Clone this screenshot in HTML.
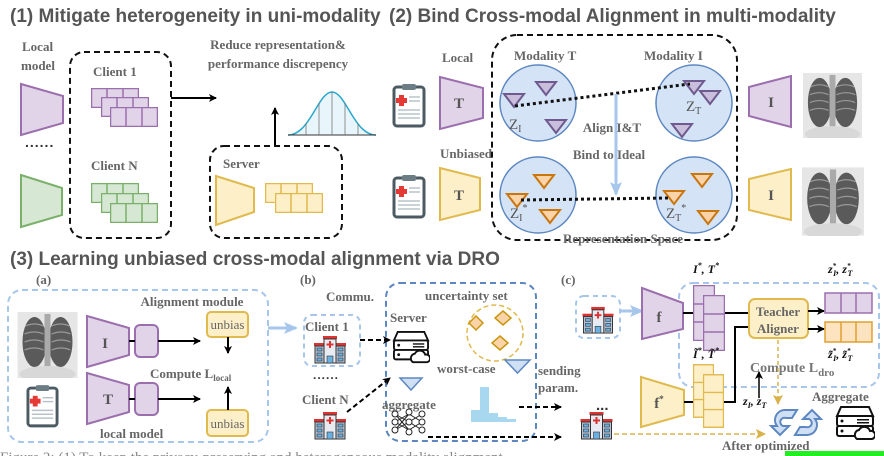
<!DOCTYPE html>
<html><head><meta charset="utf-8"><style>
html,body{margin:0;padding:0;background:#fff;width:884px;height:456px;overflow:hidden}
svg{display:block}
.t{font-family:"Liberation Sans",sans-serif;font-weight:bold;font-size:19px;fill:#555}
.s{font-family:"Liberation Serif",serif;font-weight:bold;font-size:13px;fill:#666}
.k{font-family:"Liberation Serif",serif;font-weight:bold;font-size:12px;fill:#111;font-style:italic}
</style></head><body>
<svg width="884" height="456" viewBox="0 0 884 456" xmlns="http://www.w3.org/2000/svg">
<defs>
<marker id="ah" markerWidth="8" markerHeight="8" refX="7" refY="4" orient="auto" markerUnits="userSpaceOnUse"><path d="M0,0 L8,4 L0,8 L2,4z" fill="#000"/></marker>
<marker id="ahb" markerWidth="14" markerHeight="12" refX="12" refY="6" orient="auto" markerUnits="userSpaceOnUse"><path d="M0,0 L14,6 L0,12 L3,6z" fill="#a7c6ec"/></marker>
<marker id="ahy" markerWidth="10" markerHeight="10" refX="9" refY="5" orient="auto" markerUnits="userSpaceOnUse"><path d="M0,0 L10,5 L0,10 L2,5z" fill="#d9b34a"/></marker>
<symbol id="clip" viewBox="0 0 34 46"><rect x="2" y="5" width="30" height="39" rx="3" fill="#fff" stroke="#4c5b63" stroke-width="3"/><rect x="10" y="2" width="14" height="6" rx="2" fill="#6d7d86"/><rect x="7" y="13" width="5" height="11" fill="#e53935"/><rect x="4" y="16" width="11" height="5" fill="#e53935"/><g stroke="#b7c3c9" stroke-width="1.5"><line x1="17" y1="15" x2="28" y2="15"/><line x1="17" y1="19" x2="28" y2="19"/><line x1="6" y1="28" x2="28" y2="28"/><line x1="6" y1="32" x2="28" y2="32"/><line x1="6" y1="36" x2="28" y2="36"/></g></symbol>
<symbol id="hosp" viewBox="0 0 34 30"><rect x="1" y="9" width="32" height="3" fill="#d33"/><rect x="10" y="2" width="14" height="3" fill="#d33"/><rect x="2" y="12" width="30" height="17" fill="#b8c4d8" stroke="#333" stroke-width="1"/><rect x="11" y="5" width="12" height="24" fill="#e8ecf2" stroke="#333"/><rect x="16" y="7" width="2" height="7" fill="#d33"/><rect x="13.5" y="9.5" width="7" height="2" fill="#d33"/><rect x="14" y="22" width="6" height="7" fill="#6ab0e0" stroke="#333" stroke-width=".6"/><g fill="#6ab0e0" stroke="#333" stroke-width=".6"><rect x="4" y="14" width="5" height="3"/><rect x="4" y="19" width="5" height="3"/><rect x="4" y="24" width="5" height="3"/><rect x="25" y="14" width="5" height="3"/><rect x="25" y="19" width="5" height="3"/><rect x="25" y="24" width="5" height="3"/></g></symbol>
<symbol id="serv" viewBox="0 0 40 38"><g fill="#fff" stroke="#111" stroke-width="2"><path d="M6,2 L34,2 L38,11 L2,11z"/><rect x="2" y="11" width="36" height="10" rx="2"/><rect x="2" y="21" width="36" height="10" rx="2"/><path d="M22,34 a5,5 0 0 1 2,-9 a6,6 0 0 1 11,1 a4,4 0 0 1 2,8z"/></g><g fill="#111"><circle cx="7" cy="16" r="1.5"/><circle cx="7" cy="26" r="1.5"/><rect x="22" y="14" width="12" height="1.5"/><rect x="22" y="17" width="12" height="1.5"/></g></symbol>
<symbol id="xray" viewBox="0 0 60 66"><rect width="60" height="66" fill="#e6e6e6"/><ellipse cx="17" cy="30" rx="12" ry="25" fill="#5a5a5a"/><ellipse cx="43" cy="30" rx="12" ry="25" fill="#5a5a5a"/><rect x="27" y="2" width="6" height="60" fill="#aaa"/><ellipse cx="30" cy="62" rx="28" ry="8" fill="#d8d8d8"/><g stroke="#999" stroke-width="1.2" fill="none"><path d="M8,14 q9,-4 18,0"/><path d="M7,22 q10,-4 19,0"/><path d="M7,30 q10,-4 19,0"/><path d="M7,38 q10,-4 19,0"/><path d="M34,14 q9,-4 18,0"/><path d="M34,22 q10,-4 19,0"/><path d="M34,30 q10,-4 19,0"/><path d="M34,38 q10,-4 19,0"/></g></symbol>
<symbol id="gp" viewBox="0 0 48 20"><rect x="0.5" y="0.5" width="47" height="19" fill="#e2d4e8" stroke="#9b6fae" stroke-width="1.5"/><line x1="16" y1="0" x2="16" y2="20" stroke="#9b6fae" stroke-width="1.5"/><line x1="32" y1="0" x2="32" y2="20" stroke="#9b6fae" stroke-width="1.5"/></symbol>
<symbol id="gg" viewBox="0 0 48 20"><rect x="0.5" y="0.5" width="47" height="19" fill="#d6e8d3" stroke="#7ab06a" stroke-width="1.5"/><line x1="16" y1="0" x2="16" y2="20" stroke="#7ab06a" stroke-width="1.5"/><line x1="32" y1="0" x2="32" y2="20" stroke="#7ab06a" stroke-width="1.5"/></symbol>
<symbol id="gy" viewBox="0 0 48 20"><rect x="0.5" y="0.5" width="47" height="19" fill="#fdf0c8" stroke="#e0b94f" stroke-width="1.5"/><line x1="16" y1="0" x2="16" y2="20" stroke="#e0b94f" stroke-width="1.5"/><line x1="32" y1="0" x2="32" y2="20" stroke="#e0b94f" stroke-width="1.5"/></symbol>
<symbol id="vp" viewBox="0 0 22 56"><rect x="0.5" y="0.5" width="21" height="55" fill="#e2d4e8" stroke="#9b6fae" stroke-width="1.5"/><g stroke="#9b6fae" stroke-width="1.5"><line x1="0" y1="19" x2="22" y2="19"/><line x1="0" y1="37" x2="22" y2="37"/></g></symbol>
<symbol id="vy" viewBox="0 0 22 56"><rect x="0.5" y="0.5" width="21" height="55" fill="#fdf0c8" stroke="#e0b94f" stroke-width="1.5"/><g stroke="#e0b94f" stroke-width="1.5"><line x1="0" y1="19" x2="22" y2="19"/><line x1="0" y1="37" x2="22" y2="37"/></g></symbol>
<path id="tp" d="M0,0 L20,0 L10,13z" fill="#c9bfdc" stroke="#6e5a8f" stroke-width="2"/>
<path id="to" d="M0,0 L20,0 L10,13z" fill="#fbd3a8" stroke="#c9760f" stroke-width="2"/>
</defs>

<!-- Section 1 -->
<text class="t" x="10" y="22">(1) Mitigate heterogeneity in uni-modality</text>
<text class="t" x="389" y="22">(2) Bind Cross-modal Alignment in multi-modality</text>
<text class="s" x="22" y="51">Local</text><text class="s" x="21" y="70">model</text>
<path d="M21,84 L63,96 L63,123 L21,135z" fill="#e2d4e8" stroke="#9b6fae" stroke-width="2"/>
<text x="25" y="147" style="font:bold 14px 'Liberation Sans';fill:#333;letter-spacing:1px">......</text>
<path d="M21,175 L62,188 L62,215 L21,227z" fill="#d6e8d3" stroke="#7ab06a" stroke-width="2"/>
<rect x="70" y="52" width="101" height="186" rx="14" fill="none" stroke="#111" stroke-width="2" stroke-dasharray="6,4"/>
<text class="s" x="93" y="76">Client 1</text>
<use href="#gp" x="91" y="88" width="48" height="20"/><use href="#gp" x="101" y="97" width="48" height="20"/><use href="#gp" x="110" y="107" width="48" height="20"/>
<text class="s" x="91" y="170">Client N</text>
<use href="#gg" x="91" y="183" width="48" height="20"/><use href="#gg" x="101" y="193" width="48" height="20"/><use href="#gg" x="110" y="203" width="48" height="20"/>
<line x1="171" y1="98" x2="216" y2="98" stroke="#000" stroke-width="2" marker-end="url(#ah)"/>
<text class="s" x="278" y="49" text-anchor="middle">Reduce representation&amp;</text>
<text class="s" x="278" y="68" text-anchor="middle">performance discrepency</text>
<line x1="275" y1="146" x2="275" y2="108" stroke="#000" stroke-width="2" marker-end="url(#ah)"/>
<path d="M288,135 C310,135 318,92 332,92 C346,92 354,135 376,135z" fill="#e8f6fb"/>
<path d="M288,135 C310,135 318,92 332,92 C346,92 354,135 376,135" fill="none" stroke="#2aa7cc" stroke-width="1.5"/>
<line x1="288" y1="135" x2="376" y2="135" stroke="#333"/>
<g stroke="#777" stroke-width=".8"><line x1="306" y1="135" x2="306" y2="123"/><line x1="319" y1="135" x2="319" y2="103"/><line x1="332" y1="135" x2="332" y2="92"/><line x1="345" y1="135" x2="345" y2="103"/><line x1="358" y1="135" x2="358" y2="123"/></g>
<rect x="210" y="146" width="132" height="92" rx="14" fill="none" stroke="#111" stroke-width="2" stroke-dasharray="6,4"/>
<text class="s" x="223" y="168">Server</text>
<path d="M216,176 L254,188 L254,212 L216,225z" fill="#fdf0c8" stroke="#e0b94f" stroke-width="2"/>
<use href="#gy" x="265" y="183" width="48" height="20"/><use href="#gy" x="275" y="193" width="48" height="20"/>

<!-- Section 2 -->
<use href="#clip" x="392" y="82" width="34" height="46"/>
<use href="#clip" x="392" y="173" width="34" height="46"/>
<text class="s" x="442" y="62">Local</text>
<path d="M440,77 L483,88 L483,118 L440,129z" fill="#e2d4e8" stroke="#9b6fae" stroke-width="2"/>
<text x="459" y="108" style="font:bold 15px 'Liberation Serif';fill:#555" text-anchor="middle">T</text>
<text class="s" x="440" y="158">Unbiased</text>
<path d="M440,168 L480,178 L480,210 L440,220z" fill="#fdf0c8" stroke="#e0b94f" stroke-width="2"/>
<text x="459" y="200" style="font:bold 15px 'Liberation Serif';fill:#555" text-anchor="middle">T</text>
<rect x="492" y="35" width="245" height="205" rx="25" fill="none" stroke="#111" stroke-width="2" stroke-dasharray="6,4"/>
<text class="s" x="514" y="60">Modality T</text><text class="s" x="644" y="60">Modality I</text>
<g fill="#d4e3f5" stroke="#5d87c0" stroke-width="1.5"><circle cx="538" cy="103" r="38"/><circle cx="694" cy="103" r="38"/><circle cx="538" cy="195" r="38"/><circle cx="694" cy="195" r="38"/></g>
<use href="#tp" x="504" y="94"/><use href="#tp" x="536" y="82"/><use href="#tp" x="546" y="120"/>
<use href="#tp" x="684" y="81"/><use href="#tp" x="700" y="91"/><use href="#tp" x="672" y="124"/>
<use href="#to" x="534" y="175"/><use href="#to" x="507" y="194"/><use href="#to" x="540" y="210"/>
<use href="#to" x="692" y="174"/><use href="#to" x="664" y="191"/><use href="#to" x="698" y="211"/>
<line x1="515" y1="106" x2="690" y2="84" stroke="#111" stroke-width="3" stroke-dasharray="3,3"/>
<line x1="521" y1="200" x2="668" y2="198" stroke="#111" stroke-width="3" stroke-dasharray="3,3"/>
<line x1="616" y1="94" x2="616" y2="194" stroke="#a7c6ec" stroke-width="3" marker-end="url(#ahb)"/>
<text x="509" y="129" style="font:15px 'Liberation Serif';fill:#555">Z<tspan font-size="10" dy="3">I</tspan></text>
<text x="686" y="111" style="font:15px 'Liberation Serif';fill:#555">Z<tspan font-size="10" dy="3">T</tspan></text>
<text x="510" y="218" style="font:15px 'Liberation Serif';fill:#555">Z<tspan font-size="10" dy="3">I</tspan><tspan font-size="10" dy="-10">*</tspan></text>
<text x="666" y="218" style="font:15px 'Liberation Serif';fill:#555">Z<tspan font-size="10" dy="3">T</tspan><tspan font-size="10" dy="-10">*</tspan></text>
<text class="s" x="612" y="132" text-anchor="middle">Align I&amp;T</text>
<text class="s" x="609" y="159" text-anchor="middle">Bind to Ideal</text>
<text class="s" x="623" y="243" text-anchor="middle">Representation Space</text>
<path d="M749,87 L791,76 L791,127 L749,116z" fill="#e2d4e8" stroke="#9b6fae" stroke-width="2"/>
<text x="771" y="107" style="font:bold 15px 'Liberation Serif';fill:#555" text-anchor="middle">I</text>
<path d="M749,179 L791,169 L791,220 L749,210z" fill="#fdf0c8" stroke="#e0b94f" stroke-width="2"/>
<text x="771" y="200" style="font:bold 15px 'Liberation Serif';fill:#555" text-anchor="middle">I</text>
<use href="#xray" x="802" y="73" width="61" height="65"/>
<use href="#xray" x="802" y="167" width="62" height="69"/>

<!-- Section 3 -->
<text class="t" x="10" y="265">(3) Learning unbiased cross-modal alignment via DRO</text>
<text class="s" x="36" y="284">(a)</text>
<rect x="8" y="290" width="260" height="152" rx="14" fill="none" stroke="#a7c6ec" stroke-width="2" stroke-dasharray="6,4"/>
<use href="#xray" x="17" y="312" width="61" height="66"/>
<use href="#clip" x="26" y="383" width="33" height="45"/>
<path d="M87,316 L129,328 L129,355 L87,367z" fill="#e2d4e8" stroke="#9b6fae" stroke-width="2"/>
<text x="105" y="348" style="font:bold 15px 'Liberation Serif';fill:#555" text-anchor="middle">I</text>
<path d="M87,373 L129,385 L129,412 L87,424z" fill="#e2d4e8" stroke="#9b6fae" stroke-width="2"/>
<text x="108" y="404" style="font:bold 15px 'Liberation Serif';fill:#555" text-anchor="middle">T</text>
<g fill="#e2d4e8" stroke="#9b6fae" stroke-width="2"><rect x="135" y="325" width="23" height="32" rx="5"/><rect x="135" y="383" width="23" height="32" rx="5"/></g>
<line x1="129" y1="341" x2="135" y2="341" stroke="#000" stroke-width="2"/><line x1="129" y1="399" x2="135" y2="399" stroke="#000" stroke-width="2"/>
<line x1="158" y1="341" x2="200" y2="341" stroke="#000" stroke-width="2" marker-end="url(#ah)"/>
<line x1="158" y1="399" x2="200" y2="399" stroke="#000" stroke-width="2" marker-end="url(#ah)"/>
<text class="s" x="192" y="306" text-anchor="middle">Alignment module</text>
<g fill="#fdf0c8" stroke="#e0b94f" stroke-width="2"><rect x="207" y="312" width="41" height="25" rx="4"/><rect x="207" y="410" width="41" height="26" rx="4"/></g>
<text x="227.5" y="329" style="font:13px 'Liberation Serif';fill:#666" text-anchor="middle">unbias</text>
<text x="227.5" y="428" style="font:13px 'Liberation Serif';fill:#666" text-anchor="middle">unbias</text>
<line x1="228" y1="337" x2="228" y2="353" stroke="#000" stroke-width="2" marker-end="url(#ah)"/>
<line x1="228" y1="410" x2="228" y2="387" stroke="#000" stroke-width="2" marker-end="url(#ah)"/>
<text class="s" x="150" y="378">Compute L<tspan font-size="9" dy="3">local</tspan></text>
<text class="s" x="100" y="438">local model</text>
<line x1="268" y1="328" x2="296" y2="328" stroke="#a7c6ec" stroke-width="3" marker-end="url(#ahb)"/>

<text class="s" x="300" y="284">(b)</text>
<text class="s" x="326" y="301">Commu.</text>
<rect x="304" y="315" width="56" height="51" rx="8" fill="none" stroke="#a7c6ec" stroke-width="2" stroke-dasharray="5,4"/>
<text class="s" x="305" y="331">Client 1</text>
<use href="#hosp" x="313" y="334" width="34" height="30"/>
<text x="313" y="379" style="font:bold 12px 'Liberation Sans';fill:#333;letter-spacing:1px">......</text>
<text class="s" x="302" y="404">Client N</text>
<use href="#hosp" x="313" y="410" width="34" height="30"/>
<rect x="386" y="283" width="150" height="158" rx="14" fill="none" stroke="#5d87c0" stroke-width="2" stroke-dasharray="6,4"/>
<text class="s" x="425" y="300">uncertainty set</text>
<text class="s" x="390" y="322">Server</text>
<use href="#serv" x="392" y="330" width="38" height="36"/>
<line x1="360" y1="340" x2="390" y2="340" stroke="#000" stroke-width="2" stroke-dasharray="5,3" marker-end="url(#ah)"/>
<line x1="347" y1="412" x2="390" y2="378" stroke="#000" stroke-width="2" stroke-dasharray="5,3" marker-end="url(#ah)"/>
<circle cx="495" cy="333" r="28" fill="none" stroke="#e0b94f" stroke-width="1.5" stroke-dasharray="5,3"/>
<g fill="#fbd3a8" stroke="#c9960f" stroke-width="1.5"><path d="M476,316 L483,323 L476,330 L469,323z"/><path d="M503,311 L511,318 L503,325 L495,318z"/><path d="M500,336 L508,343 L500,350 L492,343z"/></g>
<text class="s" x="437" y="373">worst-case</text>
<path d="M505,360 L530,360 L517.5,373z" fill="#cfe0f5" stroke="#5d87c0" stroke-width="1.5"/>
<path d="M400,378 L422,378 L411,390z" fill="#cfe0f5" stroke="#5d87c0" stroke-width="1.5"/>
<g fill="#a8d8f0"><rect x="471" y="410" width="9" height="12"/><rect x="480" y="387" width="9" height="35"/><rect x="489" y="413" width="9" height="9"/><rect x="498" y="417" width="9" height="5"/><rect x="507" y="419" width="9" height="3"/></g>
<text class="s" x="382" y="409">aggregate</text>
<g stroke="#222" stroke-width="1" fill="#fff"><line x1="395" y1="414" x2="409" y2="422"/><line x1="395" y1="422" x2="409" y2="414"/><line x1="395" y1="430" x2="409" y2="422"/><line x1="395" y1="422" x2="409" y2="430"/><line x1="395" y1="414" x2="409" y2="430"/><line x1="395" y1="430" x2="409" y2="414"/><line x1="409" y1="414" x2="422" y2="422"/><line x1="409" y1="430" x2="422" y2="422"/><line x1="409" y1="422" x2="422" y2="430"/><line x1="409" y1="422" x2="422" y2="414"/><circle cx="395" cy="414" r="3"/><circle cx="395" cy="422" r="3"/><circle cx="395" cy="430" r="3"/><circle cx="409" cy="412" r="3"/><circle cx="409" cy="422" r="3"/><circle cx="409" cy="432" r="3"/><circle cx="422" cy="414" r="3"/><circle cx="422" cy="422" r="3"/><circle cx="422" cy="430" r="3"/></g>
<line x1="519" y1="407" x2="561" y2="407" stroke="#000" stroke-width="2" stroke-dasharray="5,3" marker-end="url(#ah)"/>
<line x1="428" y1="437" x2="561" y2="437" stroke="#000" stroke-width="2" stroke-dasharray="5,3" marker-end="url(#ah)"/>
<text class="s" x="538" y="375">sending</text><text class="s" x="538" y="392">param.</text>
<text x="596" y="410" style="font:bold 15px 'Liberation Sans';fill:#333">...</text>

<text class="s" x="561" y="284">(c)</text>
<rect x="576" y="296" width="44" height="42" rx="8" fill="none" stroke="#a7c6ec" stroke-width="2" stroke-dasharray="5,4"/>
<use href="#hosp" x="581" y="305" width="34" height="29"/>
<line x1="620" y1="311" x2="642" y2="311" stroke="#a7c6ec" stroke-width="3" marker-end="url(#ahb)"/>
<rect x="679" y="283" width="200" height="104" rx="14" fill="none" stroke="#a7c6ec" stroke-width="2" stroke-dasharray="6,4"/>
<path d="M642,288 L683,303 L683,329 L642,339z" fill="#e2d4e8" stroke="#9b6fae" stroke-width="2"/>
<text x="659" y="322" style="font:bold 15px 'Liberation Serif';fill:#555" text-anchor="middle">f</text>
<use href="#vp" x="693" y="285" width="22" height="56"/><use href="#vp" x="703" y="295" width="22" height="56"/>
<text class="k" x="693" y="273">I<tspan font-size="8" dy="-5">*</tspan><tspan dy="5">, T</tspan><tspan font-size="8" dy="-5">*</tspan></text>
<line x1="683" y1="313" x2="693" y2="313" stroke="#000" stroke-width="2"/>
<line x1="725" y1="313" x2="749" y2="313" stroke="#000" stroke-width="2"/>
<path d="M722,402 L735,402 L735,327 L749,327" fill="none" stroke="#000" stroke-width="2"/>
<rect x="749" y="299" width="59" height="39" rx="6" fill="#fdf0c8" stroke="#e0b94f" stroke-width="2"/>
<text class="s" x="778" y="316" text-anchor="middle">Teacher</text><text class="s" x="778" y="333" text-anchor="middle">Aligner</text>
<line x1="808" y1="311" x2="824" y2="311" stroke="#000" stroke-width="2" marker-end="url(#ah)"/>
<line x1="808" y1="329" x2="824" y2="329" stroke="#000" stroke-width="2" marker-end="url(#ah)"/>
<g stroke-width="1.5"><rect x="825" y="293" width="47" height="20" fill="#e2d4e8" stroke="#9b6fae"/><line x1="841" y1="293" x2="841" y2="313" stroke="#9b6fae"/><line x1="856" y1="293" x2="856" y2="313" stroke="#9b6fae"/>
<rect x="825" y="322" width="47" height="20" fill="#fde3c0" stroke="#e0a030"/><line x1="841" y1="322" x2="841" y2="342" stroke="#e0a030"/><line x1="856" y1="322" x2="856" y2="342" stroke="#e0a030"/></g>
<text class="k" x="828" y="273">z<tspan font-size="7" dy="-5">*</tspan><tspan font-size="8" dx="-3" dy="8">I</tspan><tspan dy="-3">, z</tspan><tspan font-size="7" dy="-5">*</tspan><tspan font-size="8" dx="-3" dy="8">T</tspan></text>
<text class="k" x="828" y="358">z̃<tspan font-size="7" dy="-5">*</tspan><tspan font-size="8" dx="-3" dy="8">I</tspan><tspan dy="-3">, z̃</tspan><tspan font-size="7" dy="-5">*</tspan><tspan font-size="8" dx="-3" dy="8">T</tspan></text>
<text x="750" y="372" style="font:bold 14px 'Liberation Serif';fill:#777">Compute L<tspan font-size="11" dy="4">dro</tspan></text>
<path d="M641,377 L684,390 L684,415 L641,427z" fill="#fdf0c8" stroke="#e0b94f" stroke-width="2"/>
<text x="659" y="408" style="font:bold 15px 'Liberation Serif';fill:#555" text-anchor="middle">f<tspan font-size="9" dy="-6">*</tspan></text>
<line x1="684" y1="402" x2="693" y2="402" stroke="#000" stroke-width="2"/>
<use href="#vy" x="693" y="363" width="21" height="56"/><use href="#vy" x="703" y="373" width="21" height="56"/>
<text class="k" x="693" y="358">Ĩ<tspan font-size="8" dy="-5">*</tspan><tspan dy="5">, T̃</tspan><tspan font-size="8" dy="-5">*</tspan></text>
<text class="k" x="743" y="405">z<tspan font-size="8" dy="3">I</tspan><tspan dy="-3">, z</tspan><tspan font-size="8" dy="3">T</tspan></text>
<line x1="759" y1="398" x2="759" y2="372" stroke="#000" stroke-width="1.5" marker-end="url(#ah)"/>
<line x1="778" y1="340" x2="778" y2="404" stroke="#d9b34a" stroke-width="1.5" stroke-dasharray="4,3" marker-end="url(#ahy)"/>
<g fill="#cfe0f5" stroke="#5d87c0" stroke-width="2"><path d="M797,410 L785,410 a10,10 0 0 0 -8,16 l-6,0 l9,9 l9,-9 l-6,0 a4,4 0 0 1 3,-8 l6,0z"/><path d="M795,435 L807,435 a10,10 0 0 0 8,-16 l6,0 l-9,-9 l-9,9 l6,0 a4,4 0 0 1 -3,8 l-6,0z"/></g>
<text class="s" x="812" y="401">Aggregate</text>
<use href="#serv" x="835" y="405" width="40" height="38"/>
<use href="#hosp" x="579" y="410" width="35" height="30"/>
<line x1="614" y1="434" x2="765" y2="434" stroke="#d9b34a" stroke-width="1.5" stroke-dasharray="5,3" marker-end="url(#ahy)"/>
<text class="s" x="722" y="450">After optimized</text>
<text x="0" y="462" style="font:15px 'Liberation Serif';fill:#888">Figure 2: (1) To keep the privacy-preserving and heterogeneous modality alignment ...</text>
<rect x="785" y="451" width="99" height="5" fill="#22ee22"/>
</svg>
</body></html>
